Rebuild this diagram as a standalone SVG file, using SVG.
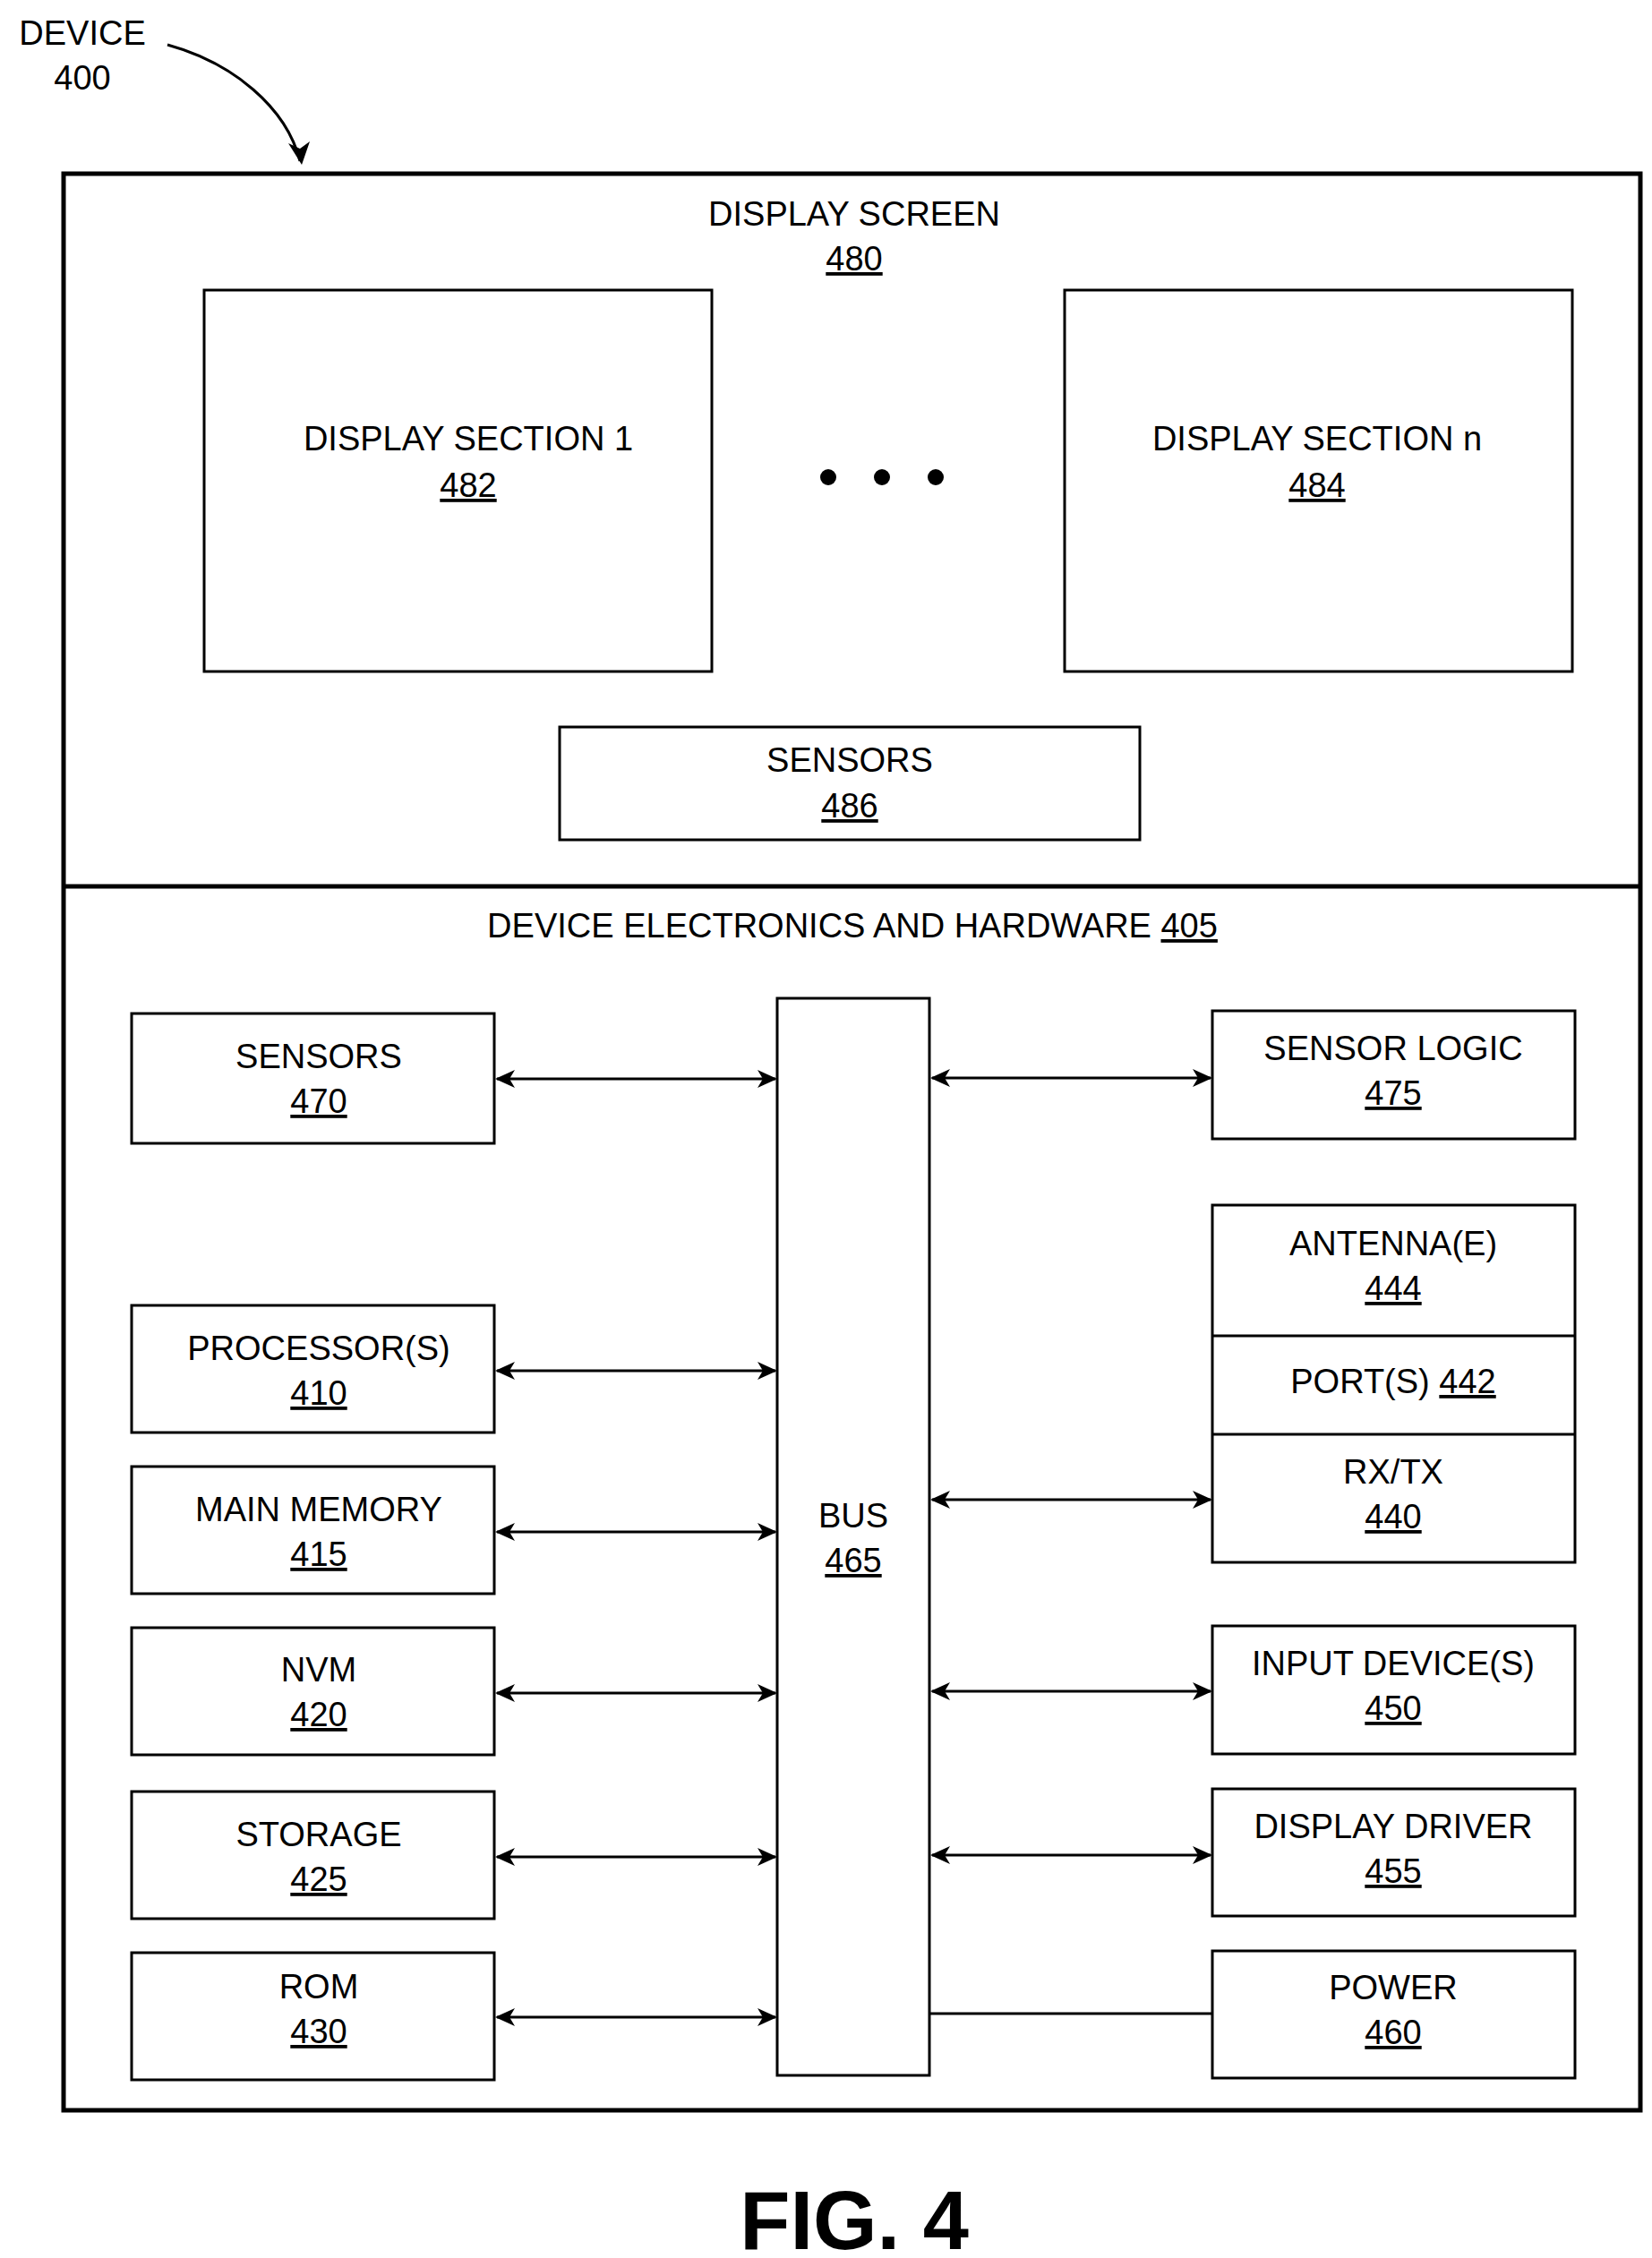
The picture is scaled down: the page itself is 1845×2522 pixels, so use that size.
<svg xmlns="http://www.w3.org/2000/svg" width="1845" height="2522" viewBox="0 0 1845 2522">
<style>
.b{fill:none;stroke:#000;stroke-width:3}
.o{fill:none;stroke:#000;stroke-width:5}
text{font-family:"Liberation Sans",Arial,sans-serif;font-size:38px;text-anchor:middle;fill:#000}
.u{text-decoration:underline}
</style>
<defs>
<marker id="ah" markerWidth="22" markerHeight="20" refX="20" refY="10" orient="auto-start-reverse" markerUnits="userSpaceOnUse"><path d="M0,0 L22,10 L0,20 L6,10 z" fill="#000"/></marker>
</defs>
<rect width="1845" height="2522" fill="#fff"/>
<g id="device-label">
<text x="92" y="50">DEVICE</text>
<text x="92" y="100">400</text>
<path d="M187,50 C260,70 320,120 335,180" fill="none" stroke="#000" stroke-width="3"/>
<path d="M322,160 L337,184 L346,158 L335,166 z" fill="#000"/>
</g>
<g id="device"><rect x="71" y="194" width="1761" height="2163" class="o"/><line x1="71" y1="990" x2="1832" y2="990" class="o"/></g>
<g id="display-screen"><text x="954" y="252">DISPLAY SCREEN</text><text x="954" y="302" class="u">480</text></g>
<g id="ds1"><rect x="228" y="324" width="567" height="426" class="b"/><text x="523" y="503">DISPLAY SECTION 1</text><text x="523" y="555" class="u">482</text></g>
<g id="dots"><circle cx="925" cy="533" r="9"/><circle cx="985" cy="533" r="9"/><circle cx="1045" cy="533" r="9"/></g>
<g id="dsn"><rect x="1189" y="324" width="567" height="426" class="b"/><text x="1471" y="503">DISPLAY SECTION n</text><text x="1471" y="555" class="u">484</text></g>
<g id="s486"><rect x="625" y="812" width="648" height="126" class="b"/><text x="949" y="862">SENSORS</text><text x="949" y="913" class="u">486</text></g>
<g id="deh"><text x="952" y="1047">DEVICE ELECTRONICS AND HARDWARE <tspan class="u">405</tspan></text></g>
<g id="s470"><rect x="147" y="1132" width="405" height="145" class="b"/><text x="356" y="1193">SENSORS</text><text x="356" y="1243" class="u">470</text></g>
<g id="p410"><rect x="147" y="1458" width="405" height="142" class="b"/><text x="356" y="1519">PROCESSOR(S)</text><text x="356" y="1569" class="u">410</text></g>
<g id="m415"><rect x="147" y="1638" width="405" height="142" class="b"/><text x="356" y="1699">MAIN MEMORY</text><text x="356" y="1749" class="u">415</text></g>
<g id="n420"><rect x="147" y="1818" width="405" height="142" class="b"/><text x="356" y="1878">NVM</text><text x="356" y="1928" class="u">420</text></g>
<g id="st425"><rect x="147" y="2001" width="405" height="142" class="b"/><text x="356" y="2062">STORAGE</text><text x="356" y="2112" class="u">425</text></g>
<g id="r430"><rect x="147" y="2181" width="405" height="142" class="b"/><text x="356" y="2232">ROM</text><text x="356" y="2282" class="u">430</text></g>
<g id="bus"><rect x="868" y="1115" width="170" height="1203" class="b"/><text x="953" y="1706">BUS</text><text x="953" y="1756" class="u">465</text></g>
<g id="sl475"><rect x="1354" y="1129" width="405" height="143" class="b"/><text x="1556" y="1184">SENSOR LOGIC</text><text x="1556" y="1234" class="u">475</text></g>
<g id="rf"><rect x="1354" y="1346" width="405" height="399" class="b"/><line x1="1354" y1="1492" x2="1759" y2="1492" class="b"/><line x1="1354" y1="1602" x2="1759" y2="1602" class="b"/>
<text x="1556" y="1402">ANTENNA(E)</text><text x="1556" y="1452" class="u">444</text>
<text x="1556" y="1556">PORT(S) <tspan class="u">442</tspan></text>
<text x="1556" y="1657">RX/TX</text><text x="1556" y="1707" class="u">440</text></g>
<g id="i450"><rect x="1354" y="1816" width="405" height="143" class="b"/><text x="1556" y="1871">INPUT DEVICE(S)</text><text x="1556" y="1921" class="u">450</text></g>
<g id="d455"><rect x="1354" y="1998" width="405" height="142" class="b"/><text x="1556" y="2053">DISPLAY DRIVER</text><text x="1556" y="2103" class="u">455</text></g>
<g id="pw460"><rect x="1354" y="2179" width="405" height="142" class="b"/><text x="1556" y="2233">POWER</text><text x="1556" y="2283" class="u">460</text></g>
<g id="connectors" stroke="#000" stroke-width="3" fill="none">
<g marker-start="url(#ah)" marker-end="url(#ah)">
<line x1="555" y1="1205" x2="866" y2="1205"/>
<line x1="555" y1="1531" x2="866" y2="1531"/>
<line x1="555" y1="1711" x2="866" y2="1711"/>
<line x1="555" y1="1891" x2="866" y2="1891"/>
<line x1="555" y1="2074" x2="866" y2="2074"/>
<line x1="555" y1="2253" x2="866" y2="2253"/>
<line x1="1041" y1="1204" x2="1352" y2="1204"/>
<line x1="1041" y1="1675" x2="1352" y2="1675"/>
<line x1="1041" y1="1889" x2="1352" y2="1889"/>
<line x1="1041" y1="2072" x2="1352" y2="2072"/>
</g>
<line x1="1038" y1="2249" x2="1354" y2="2249"/>
</g>
<text x="954" y="2512" style="font-size:92px;font-weight:bold">FIG. 4</text>
</svg>
